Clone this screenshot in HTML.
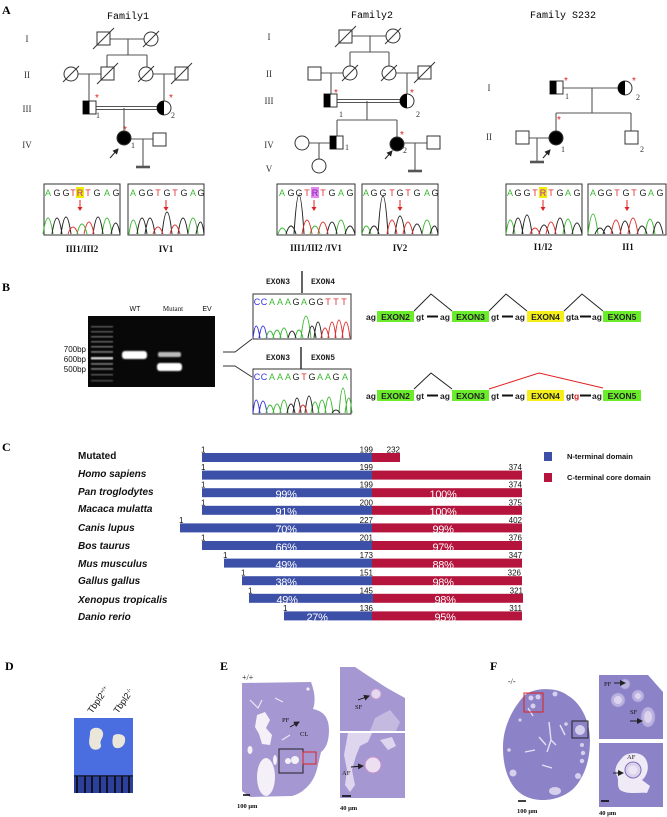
<!DOCTYPE html>
<html><head><meta charset="utf-8"><style>
html,body{margin:0;padding:0;background:#fff;}
svg{display:block;}
.serif{font-family:"Liberation Serif",serif;}
.sans{font-family:"Liberation Sans",sans-serif;}
.mono{font-family:"Liberation Mono",monospace;}
</style></head><body>
<svg width="667" height="817" viewBox="0 0 667 817" xmlns="http://www.w3.org/2000/svg">
<defs>
<filter id="bl" x="-30%" y="-60%" width="160%" height="220%"><feGaussianBlur stdDeviation="0.9"/></filter>
<filter id="bl2" x="-20%" y="-20%" width="140%" height="140%"><feGaussianBlur stdDeviation="0.6"/></filter>
<marker id="ah" markerWidth="6" markerHeight="6" refX="5" refY="3" orient="auto" markerUnits="userSpaceOnUse"><path d="M0,0 L6,3 L0,6 Z" fill="#222"/></marker>
</defs>
<rect width="667" height="817" fill="#fff"/>

<!-- ============ PANEL A ============ -->
<text x="2" y="14" class="serif" font-size="12" font-weight="bold">A</text>
<text x="128" y="19" class="mono" font-size="10" text-anchor="middle">Family1</text>
<text x="372" y="18" class="mono" font-size="10" text-anchor="middle">Family2</text>
<text x="563" y="18" class="mono" font-size="10" text-anchor="middle">Family S232</text>

<g class="serif" font-size="9" fill="#333" text-anchor="middle">
<text x="27" y="42">I</text><text x="27" y="78">II</text><text x="27" y="112">III</text><text x="27" y="148">IV</text>
<text x="269" y="40">I</text><text x="269" y="77">II</text><text x="269" y="104">III</text><text x="269" y="148">IV</text><text x="269" y="172">V</text>
<text x="489" y="91">I</text><text x="489" y="140">II</text>
</g>

<!-- Family1 lines -->
<g stroke="#555" stroke-width="1.1" fill="none">
<line x1="110" y1="39" x2="144" y2="39"/>
<line x1="128" y1="39" x2="128" y2="55"/>
<line x1="107" y1="55" x2="147" y2="55"/>
<line x1="107" y1="55" x2="107" y2="67"/>
<line x1="147" y1="55" x2="147" y2="67"/>
<line x1="78" y1="74" x2="101" y2="74"/>
<line x1="89" y1="74" x2="89" y2="101"/>
<line x1="153" y1="74" x2="175" y2="74"/>
<line x1="164" y1="74" x2="164" y2="101"/>
<line x1="96" y1="106.5" x2="157" y2="106.5"/>
<line x1="96" y1="109.5" x2="157" y2="109.5"/>
<line x1="124" y1="108" x2="124" y2="131"/>
<line x1="131" y1="139" x2="153" y2="139"/>
<line x1="143" y1="139" x2="143" y2="167"/>
<line x1="136" y1="167" x2="150" y2="167" stroke-width="2.6"/>
</g>
<g stroke="#333" stroke-width="1" fill="#fff">
<rect x="97" y="32" width="13" height="13"/>
<circle cx="151" cy="39" r="7"/>
<circle cx="71" cy="74" r="7"/>
<rect x="101" y="67" width="13" height="13"/>
<circle cx="146" cy="74" r="7"/>
<rect x="175" y="67" width="13" height="13"/>
<rect x="83" y="101" width="13" height="13"/>
<circle cx="164" cy="108" r="7"/>
<circle cx="124" cy="138" r="7" fill="#000"/>
<rect x="153" y="133" width="13" height="13"/>
</g>
<rect x="83" y="101" width="6.5" height="13" fill="#000"/>
<path d="M164,101 A7,7 0 0 0 164,115 Z" fill="#000"/>
<g stroke="#333" stroke-width="1">
<line x1="93" y1="49" x2="114" y2="28"/>
<line x1="143" y1="47" x2="159" y2="31"/>
<line x1="63" y1="82" x2="79" y2="66"/>
<line x1="97" y1="84" x2="118" y2="63"/>
<line x1="138" y1="82" x2="154" y2="66"/>
<line x1="171" y1="84" x2="192" y2="63"/>
</g>
<line x1="110" y1="158" x2="118" y2="149" stroke="#222" stroke-width="1" marker-end="url(#ah)"/>
<g fill="#e02020" font-size="10" class="sans"><text x="95" y="101">*</text><text x="169" y="101">*</text><text x="123" y="133">*</text></g>
<g class="serif" font-size="8" fill="#333"><text x="96" y="118">1</text><text x="171" y="118">2</text><text x="131" y="148">1</text></g>

<!-- Family2 lines -->
<g stroke="#555" stroke-width="1.1" fill="none">
<line x1="352" y1="36" x2="386" y2="36"/>
<line x1="370" y1="36" x2="370" y2="52"/>
<line x1="350" y1="52" x2="389" y2="52"/>
<line x1="350" y1="52" x2="350" y2="66"/>
<line x1="389" y1="52" x2="389" y2="66"/>
<line x1="321" y1="73" x2="343" y2="73"/>
<line x1="331" y1="73" x2="331" y2="94"/>
<line x1="396" y1="73" x2="418" y2="73"/>
<line x1="407" y1="73" x2="407" y2="94"/>
<line x1="337" y1="99.5" x2="400" y2="99.5"/>
<line x1="337" y1="102.5" x2="400" y2="102.5"/>
<line x1="367" y1="101" x2="367" y2="120"/>
<line x1="337" y1="120" x2="397" y2="120"/>
<line x1="337" y1="120" x2="337" y2="136"/>
<line x1="397" y1="120" x2="397" y2="137"/>
<line x1="309" y1="143" x2="330" y2="143"/>
<line x1="319" y1="143" x2="319" y2="159"/>
<line x1="404" y1="143" x2="427" y2="143"/>
<line x1="415" y1="143" x2="415" y2="171"/>
<line x1="408" y1="171" x2="422" y2="171" stroke-width="2.6"/>
</g>
<g stroke="#333" stroke-width="1" fill="#fff">
<rect x="339" y="30" width="13" height="13"/>
<circle cx="393" cy="36" r="7"/>
<rect x="308" y="67" width="13" height="13"/>
<circle cx="350" cy="73" r="7"/>
<circle cx="389" cy="73" r="7"/>
<rect x="418" y="66" width="13" height="13"/>
<rect x="324" y="94" width="13" height="13"/>
<circle cx="407" cy="101" r="7"/>
<circle cx="302" cy="143" r="7"/>
<rect x="330" y="136" width="13" height="13"/>
<circle cx="319" cy="166" r="7"/>
<circle cx="397" cy="144" r="7" fill="#000"/>
<rect x="427" y="136" width="13" height="13"/>
</g>
<rect x="324" y="94" width="6.5" height="13" fill="#000"/>
<rect x="330" y="136" width="6.5" height="13" fill="#000"/>
<path d="M407,94 A7,7 0 0 0 407,108 Z" fill="#000"/>
<g stroke="#333" stroke-width="1">
<line x1="335" y1="47" x2="356" y2="26"/>
<line x1="385" y1="44" x2="401" y2="28"/>
<line x1="342" y1="81" x2="358" y2="65"/>
<line x1="381" y1="81" x2="397" y2="65"/>
<line x1="414" y1="83" x2="435" y2="62"/>
</g>
<line x1="385" y1="159" x2="392" y2="151" stroke="#222" stroke-width="1" marker-end="url(#ah)"/>
<g fill="#e02020" font-size="10" class="sans"><text x="334" y="96">*</text><text x="410" y="96">*</text><text x="400" y="138">*</text></g>
<g class="serif" font-size="8" fill="#333"><text x="339" y="117">1</text><text x="416" y="117">2</text><text x="345" y="150">1</text><text x="403" y="153">2</text></g>

<!-- Family S232 lines -->
<g stroke="#555" stroke-width="1.1" fill="none">
<line x1="563" y1="88" x2="618" y2="88"/>
<line x1="592" y1="88" x2="592" y2="113"/>
<line x1="556" y1="113" x2="631" y2="113"/>
<line x1="556" y1="113" x2="556" y2="131"/>
<line x1="631" y1="113" x2="631" y2="131"/>
<line x1="529" y1="138" x2="549" y2="138"/>
<line x1="537" y1="138" x2="537" y2="162"/>
<line x1="530" y1="162" x2="544" y2="162" stroke-width="2.6"/>
</g>
<g stroke="#333" stroke-width="1" fill="#fff">
<rect x="550" y="81" width="13" height="13"/>
<circle cx="625" cy="88" r="7"/>
<rect x="516" y="131" width="13" height="13"/>
<circle cx="556" cy="138" r="7" fill="#000"/>
<rect x="625" y="131" width="13" height="13"/>
</g>
<rect x="550" y="81" width="6.5" height="13" fill="#000"/>
<path d="M625,81 A7,7 0 0 0 625,95 Z" fill="#000"/>
<line x1="543" y1="158" x2="550" y2="150" stroke="#222" stroke-width="1" marker-end="url(#ah)"/>
<g fill="#e02020" font-size="10" class="sans"><text x="564" y="84">*</text><text x="632" y="84">*</text><text x="557" y="123">*</text></g>
<g class="serif" font-size="8" fill="#333"><text x="565" y="99">1</text><text x="636" y="100">2</text><text x="561" y="152">1</text><text x="640" y="152">2</text></g>

<!-- Chromatogram boxes A -->
<g fill="#fff" stroke="#333" stroke-width="1">
<rect x="44" y="184" width="76" height="51"/>
<rect x="128" y="184" width="76" height="51"/>
<rect x="277" y="184" width="78" height="51"/>
<rect x="362" y="184" width="76" height="51"/>
<rect x="506" y="184" width="76" height="51"/>
<rect x="588" y="184" width="78" height="51"/>
</g>
<!-- highlights -->
<rect x="76" y="187" width="8" height="11" fill="#f0ee00"/>
<rect x="311" y="187" width="8" height="11" fill="#e28af0"/>
<rect x="539" y="187" width="8" height="11" fill="#f0ee00"/>

<g class="sans" font-size="9" text-anchor="middle">
<text x="48" y="196" fill="#3cb832">A</text><text x="57" y="196" fill="#222">G</text><text x="66" y="196" fill="#222">G</text><text x="73" y="196" fill="#e03030">T</text><text x="80" y="196" fill="#b020c0">R</text><text x="88" y="196" fill="#e03030">T</text><text x="97" y="196" fill="#222">G</text><text x="107" y="196" fill="#3cb832">A</text><text x="116" y="196" fill="#222">G</text>
<text x="133" y="196" fill="#3cb832">A</text><text x="142" y="196" fill="#222">G</text><text x="150" y="196" fill="#222">G</text><text x="158" y="196" fill="#e03030">T</text><text x="167" y="196" fill="#222">G</text><text x="175" y="196" fill="#e03030">T</text><text x="184" y="196" fill="#222">G</text><text x="193" y="196" fill="#3cb832">A</text><text x="201" y="196" fill="#222">G</text>
<text x="282" y="196" fill="#3cb832">A</text><text x="291" y="196" fill="#222">G</text><text x="299" y="196" fill="#222">G</text><text x="307" y="196" fill="#e03030">T</text><text x="315" y="196" fill="#8020b0">R</text><text x="323" y="196" fill="#e03030">T</text><text x="332" y="196" fill="#222">G</text><text x="341" y="196" fill="#3cb832">A</text><text x="350" y="196" fill="#222">G</text>
<text x="366" y="196" fill="#3cb832">A</text><text x="374" y="196" fill="#222">G</text><text x="383" y="196" fill="#222">G</text><text x="392" y="196" fill="#e03030">T</text><text x="400" y="196" fill="#222">G</text><text x="408" y="196" fill="#e03030">T</text><text x="417" y="196" fill="#222">G</text><text x="427" y="196" fill="#3cb832">A</text><text x="435" y="196" fill="#222">G</text>
<text x="510" y="196" fill="#3cb832">A</text><text x="518" y="196" fill="#222">G</text><text x="527" y="196" fill="#222">G</text><text x="535" y="196" fill="#e03030">T</text><text x="543" y="196" fill="#b020c0">R</text><text x="551" y="196" fill="#e03030">T</text><text x="560" y="196" fill="#222">G</text><text x="568" y="196" fill="#3cb832">A</text><text x="577" y="196" fill="#222">G</text>
<text x="593" y="196" fill="#3cb832">A</text><text x="601" y="196" fill="#222">G</text><text x="609" y="196" fill="#222">G</text><text x="617" y="196" fill="#e03030">T</text><text x="626" y="196" fill="#222">G</text><text x="634" y="196" fill="#e03030">T</text><text x="643" y="196" fill="#222">G</text><text x="651" y="196" fill="#3cb832">A</text><text x="660" y="196" fill="#222">G</text>
</g>
<!-- red arrows -->
<g stroke="#e02020" stroke-width="1" fill="#e02020">
<line x1="80" y1="200" x2="80" y2="208"/><path d="M77.5,207 L82.5,207 L80,211 Z" stroke="none"/>
<line x1="166" y1="200" x2="166" y2="208"/><path d="M163.5,207 L168.5,207 L166,211 Z" stroke="none"/>
<line x1="314" y1="200" x2="314" y2="208"/><path d="M311.5,207 L316.5,207 L314,211 Z" stroke="none"/>
<line x1="400" y1="200" x2="400" y2="208"/><path d="M397.5,207 L402.5,207 L400,211 Z" stroke="none"/>
<line x1="543" y1="200" x2="543" y2="208"/><path d="M540.5,207 L545.5,207 L543,211 Z" stroke="none"/>
<line x1="627" y1="200" x2="627" y2="208"/><path d="M624.5,207 L629.5,207 L627,211 Z" stroke="none"/>
</g>
<!-- peaks A -->
<g fill="none" stroke-width="1">
<path stroke="#3cb832" d="M43,234 Q48,202 53,234 M102,234 Q107,202 112,234"/>
<path stroke="#222" d="M52,234 Q57,202 62,234 M61,234 Q66,200 71,234 M93,234 Q98,200 103,234 M111,234 Q116,212 120,234"/>
<path stroke="#e03030" d="M68,234 Q73,220 78,234 M84,234 Q89,210 94,234"/>
<path stroke="#3cb832" d="M77,234 Q82,214 87,234"/>
<path stroke="#3cb832" d="M129,234 Q133,206 138,234 M188,234 Q193,202 198,234"/>
<path stroke="#222" d="M137,234 Q142,202 147,234 M145,234 Q150,202 155,234 M162,234 Q167,190 172,234 M178,234 Q183,202 188,234 M196,234 Q201,210 204,234"/>
<path stroke="#e03030" d="M153,234 Q158,220 163,234 M170,234 Q175,216 180,234"/>
<path stroke="#3cb832" d="M278,234 Q282,222 287,234 M310,234 Q315,218 320,234 M336,234 Q341,206 346,234"/>
<path stroke="#222" d="M286,234 Q291,218 296,234 M294,234 Q299,156 304,234 M327,234 Q332,210 337,234 M345,234 Q350,218 355,234"/>
<path stroke="#e03030" d="M302,234 Q307,206 312,234 M318,234 Q323,210 328,234"/>
<path stroke="#3cb832" d="M362,234 Q366,218 371,234 M422,234 Q427,206 432,234"/>
<path stroke="#222" d="M369,234 Q374,218 379,234 M378,234 Q383,158 388,234 M395,234 Q400,198 405,234 M412,234 Q417,214 422,234 M430,234 Q435,218 438,234"/>
<path stroke="#e03030" d="M387,234 Q392,206 397,234 M403,234 Q408,210 413,234"/>
<path stroke="#3cb832" d="M506,234 Q510,206 515,234 M563,234 Q568,204 573,234"/>
<path stroke="#222" d="M513,234 Q518,202 523,234 M522,234 Q527,196 532,234 M539,234 Q544,216 549,234 M555,234 Q560,202 565,234 M572,234 Q577,212 582,234"/>
<path stroke="#e03030" d="M530,234 Q535,222 540,234 M546,234 Q551,210 556,234"/>
<path stroke="#3cb832" d="M588,234 Q593,194 598,234 M645,234 Q650,204 655,234"/>
<path stroke="#222" d="M595,234 Q600,222 605,234 M603,234 Q608,218 613,234 M620,234 Q625,208 630,234 M637,234 Q642,218 647,234 M653,234 Q658,210 663,234"/>
<path stroke="#e03030" d="M611,234 Q616,206 621,234 M628,234 Q633,202 638,234"/>
</g>
<g class="serif" font-size="9" font-weight="bold" text-anchor="middle" fill="#111">
<text x="82" y="252">III1/III2</text><text x="166" y="252">IV1</text>
<text x="316" y="251">III1/III2 /IV1</text><text x="400" y="251">IV2</text>
<text x="543" y="250">I1/I2</text><text x="628" y="250">II1</text>
</g>

<!-- ============ PANEL B ============ -->
<text x="2" y="291" class="serif" font-size="12" font-weight="bold">B</text>
<g class="sans" font-size="7" text-anchor="middle" fill="#111">
<text x="135" y="311">WT</text><text x="173" y="311" class="serif">Mutant</text><text x="207" y="311">EV</text>
</g>
<g class="sans" font-size="8" text-anchor="end" fill="#111">
<text x="86" y="352">700bp</text><text x="86" y="362">600bp</text><text x="86" y="372">500bp</text>
</g>
<rect x="88" y="316" width="127" height="71" fill="#080808"/>
<g fill="#8a8a8a" filter="url(#bl2)">
<rect x="91" y="326" width="22" height="1.5" opacity="0.6"/>
<rect x="91" y="331" width="22" height="1.5" opacity="0.6"/>
<rect x="91" y="336" width="22" height="1.5" opacity="0.7"/>
<rect x="91" y="341" width="22" height="1.5" opacity="0.7"/>
<rect x="91" y="346" width="22" height="1.5" opacity="0.8"/>
<rect x="91" y="351" width="22" height="1.8" opacity="0.8"/>
<rect x="91" y="357" width="22" height="2.5" fill="#ccc"/>
<rect x="91" y="363" width="22" height="1.8" opacity="0.8"/>
<rect x="91" y="368" width="22" height="1.8" opacity="0.8"/>
<rect x="91" y="374" width="22" height="1.5" opacity="0.6"/>
<rect x="91" y="380" width="22" height="1.5" opacity="0.5"/>
</g>
<g filter="url(#bl)">
<rect x="122" y="351" width="25" height="8" rx="3" fill="#fff"/>
<rect x="158" y="352" width="23" height="5" rx="2" fill="#bbb"/>
<rect x="157" y="363" width="25" height="8" rx="3" fill="#fff"/>
</g>
<polyline points="223,352 235,352 252,339" fill="none" stroke="#333" stroke-width="1"/>
<polyline points="223,366 235,366 252,377" fill="none" stroke="#333" stroke-width="1"/>
<g class="mono" font-size="8" font-weight="bold" fill="#222">
<text x="266" y="284">EXON3</text><text x="311" y="284">EXON4</text>
<text x="266" y="360">EXON3</text><text x="311" y="360">EXON5</text>
</g>
<line x1="302" y1="271" x2="302" y2="293" stroke="#111" stroke-width="1.3"/>
<line x1="301" y1="347" x2="301" y2="369" stroke="#111" stroke-width="1.3"/>
<rect x="253" y="294" width="98" height="45" fill="#fff" stroke="#333" stroke-width="1"/>
<rect x="253" y="369" width="98" height="45" fill="#fff" stroke="#333" stroke-width="1"/>
<g class="sans" font-size="9" text-anchor="middle">
<text x="257" y="305" fill="#3333dd">C</text><text x="264" y="305" fill="#3333dd">C</text><text x="272" y="305" fill="#3cb832">A</text><text x="280" y="305" fill="#3cb832">A</text><text x="288" y="305" fill="#3cb832">A</text><text x="296" y="305" fill="#222">G</text><text x="304" y="305" fill="#3cb832">A</text><text x="312" y="305" fill="#222">G</text><text x="320" y="305" fill="#222">G</text><text x="328" y="305" fill="#e03030">T</text><text x="336" y="305" fill="#e03030">T</text><text x="344" y="305" fill="#e03030">T</text>
<text x="257" y="380" fill="#3333dd">C</text><text x="264" y="380" fill="#3333dd">C</text><text x="272" y="380" fill="#3cb832">A</text><text x="280" y="380" fill="#3cb832">A</text><text x="288" y="380" fill="#3cb832">A</text><text x="296" y="380" fill="#222">G</text><text x="304" y="380" fill="#e03030">T</text><text x="312" y="380" fill="#222">G</text><text x="320" y="380" fill="#3cb832">A</text><text x="328" y="380" fill="#3cb832">A</text><text x="336" y="380" fill="#222">G</text><text x="345" y="380" fill="#3cb832">A</text>
</g>
<g fill="none" stroke-width="1">
<path stroke="#3333dd" d="M253,338 Q256,314 260,338 M259,338 Q263,314 267,338"/>
<path stroke="#3cb832" d="M266,338 Q270,324 274,338 M273,338 Q277,322 281,338 M280,338 Q284,318 288,338 M295,338 Q299,322 303,338 M301,338 Q306,294 311,338"/>
<path stroke="#222" d="M288,338 Q292,324 296,338 M308,338 Q312,314 316,338 M314,338 Q318,306 322,338"/>
<path stroke="#e03030" d="M321,338 Q325,318 329,338 M328,338 Q332,306 336,338 M335,338 Q339,302 343,338 M342,338 Q346,306 350,338"/>
<path stroke="#3333dd" d="M253,413 Q256,387 260,413 M259,413 Q263,389 267,413"/>
<path stroke="#3cb832" d="M266,413 Q270,397 274,413 M273,413 Q277,395 281,413 M280,413 Q284,387 288,413 M311,413 Q315,391 319,413 M318,413 Q322,387 326,413 M325,413 Q329,381 333,413 M339,413 Q343,363 347,413 M345,413 Q349,383 352,413"/>
<path stroke="#222" d="M287,413 Q291,395 295,413 M293,413 Q297,383 301,413 M305,413 Q309,379 313,413 M332,413 Q336,407 340,413"/>
<path stroke="#e03030" d="M299,413 Q303,397 307,413"/>
</g>
<!-- exon diagrams -->
<g stroke="#222" stroke-width="1" fill="none">
<polyline points="414,311 431,294 452,311"/>
<polyline points="489,311 506,294 527,311"/>
<polyline points="564,311 582,294 603,311"/>
<polyline points="414,389 431,373 452,389"/>
</g>
<polyline points="489,389 539,373 603,388" fill="none" stroke="#e02020" stroke-width="1"/>
<g fill="#6aec2a"><rect x="377" y="311" width="37" height="11"/><rect x="452" y="311" width="37" height="11"/><rect x="603" y="311" width="38" height="11"/>
<rect x="377" y="390" width="37" height="11"/><rect x="452" y="390" width="37" height="11"/><rect x="603" y="390" width="38" height="11"/></g>
<g fill="#f5ee18"><rect x="527" y="311" width="37" height="11"/><rect x="527" y="390" width="37" height="11"/></g>
<g stroke="#111" stroke-width="2"><line x1="427" y1="316.5" x2="438" y2="316.5"/><line x1="502" y1="316.5" x2="513" y2="316.5"/><line x1="580" y1="316.5" x2="591" y2="316.5"/>
<line x1="427" y1="395.5" x2="438" y2="395.5"/><line x1="502" y1="395.5" x2="513" y2="395.5"/><line x1="580" y1="395.5" x2="591" y2="395.5"/></g>
<g class="sans" font-size="8.5" font-weight="bold" fill="#222">
<text x="366" y="320">ag</text><text x="395.5" y="320" text-anchor="middle">EXON2</text><text x="416" y="320">gt</text><text x="440" y="320">ag</text><text x="470.5" y="320" text-anchor="middle">EXON3</text><text x="491" y="320">gt</text><text x="515" y="320">ag</text><text x="545.5" y="320" text-anchor="middle">EXON4</text><text x="566" y="320">gta</text><text x="592" y="320">ag</text><text x="622" y="320" text-anchor="middle">EXON5</text>
<text x="366" y="399">ag</text><text x="395.5" y="399" text-anchor="middle">EXON2</text><text x="416" y="399">gt</text><text x="440" y="399">ag</text><text x="470.5" y="399" text-anchor="middle">EXON3</text><text x="491" y="399">gt</text><text x="515" y="399">ag</text><text x="545.5" y="399" text-anchor="middle">EXON4</text><text x="566" y="399">gt<tspan fill="#e02020">g</tspan></text><text x="592" y="399">ag</text><text x="622" y="399" text-anchor="middle">EXON5</text>
</g>

<!-- ============ PANEL C ============ -->
<text x="2" y="451" class="serif" font-size="12" font-weight="bold">C</text>
<g class="sans" font-size="10" font-weight="bold" fill="#111">
<text x="78" y="459">Mutated</text>
<g font-style="italic">
<text x="78" y="477">Homo sapiens</text>
<text x="78" y="495">Pan troglodytes</text>
<text x="78" y="512">Macaca mulatta</text>
<text x="78" y="531">Canis lupus</text>
<text x="78" y="549">Bos taurus</text>
<text x="78" y="567">Mus musculus</text>
<text x="78" y="584">Gallus gallus</text>
<text x="78" y="603">Xenopus tropicalis</text>
<text x="78" y="620">Danio rerio</text>
</g></g>
<g fill="#3c50a8">
<rect x="202" y="453" width="170" height="9"/>
<rect x="202" y="470.6" width="170" height="9"/>
<rect x="202" y="488.2" width="170" height="9"/>
<rect x="202" y="505.8" width="170" height="9"/>
<rect x="180" y="523.4" width="192" height="9"/>
<rect x="202" y="541" width="170" height="9"/>
<rect x="224" y="558.6" width="148" height="9"/>
<rect x="242" y="576.2" width="130" height="9"/>
<rect x="249" y="593.8" width="124" height="9"/>
<rect x="284" y="611.4" width="88" height="9"/>
</g>
<g fill="#b5143c">
<rect x="372" y="453" width="28" height="9"/>
<rect x="372" y="470.6" width="150" height="9"/>
<rect x="372" y="488.2" width="150" height="9"/>
<rect x="372" y="505.8" width="150" height="9"/>
<rect x="372" y="523.4" width="150" height="9"/>
<rect x="372" y="541" width="150" height="9"/>
<rect x="372" y="558.6" width="150" height="9"/>
<rect x="372" y="576.2" width="150" height="9"/>
<rect x="373" y="593.8" width="150" height="9"/>
<rect x="372" y="611.4" width="150" height="9"/>
</g>
<g class="sans" font-size="8" fill="#111">
<text x="201" y="452.5">1</text><text x="201" y="470">1</text><text x="201" y="487.7">1</text><text x="201" y="505.3">1</text><text x="179" y="522.9">1</text><text x="201" y="540.5">1</text><text x="223" y="558">1</text><text x="241" y="575.7">1</text><text x="248" y="593.3">1</text><text x="283" y="610.9">1</text>
<g text-anchor="end">
<text x="373" y="452.5">199</text><text x="400" y="452.5">232</text>
<text x="373" y="470">199</text><text x="522" y="470">374</text>
<text x="373" y="487.7">199</text><text x="522" y="487.7">374</text>
<text x="373" y="505.3">200</text><text x="522" y="505.3">375</text>
<text x="373" y="522.9">227</text><text x="522" y="522.9">402</text>
<text x="373" y="540.5">201</text><text x="522" y="540.5">376</text>
<text x="373" y="558">173</text><text x="522" y="558">347</text>
<text x="373" y="575.7">151</text><text x="521" y="575.7">326</text>
<text x="373" y="593.3">145</text><text x="523" y="593.3">321</text>
<text x="373" y="610.9">136</text><text x="522" y="610.9">311</text>
</g></g>
<g class="sans" font-size="11" fill="#fff" text-anchor="middle" letter-spacing="-0.3">
<text x="286" y="498">99%</text><text x="443" y="498">100%</text>
<text x="286" y="515.6">91%</text><text x="443" y="515.6">100%</text>
<text x="286" y="533.2">70%</text><text x="443" y="533.2">99%</text>
<text x="286" y="550.8">66%</text><text x="443" y="550.8">97%</text>
<text x="286" y="568.4">49%</text><text x="443" y="568.4">88%</text>
<text x="286" y="586">38%</text><text x="443" y="586">98%</text>
<text x="287" y="603.6">49%</text><text x="445" y="603.6">98%</text>
<text x="317" y="621.2">27%</text><text x="445" y="621.2">95%</text>
</g>
<rect x="544" y="452" width="8" height="9" fill="#3c50a8"/>
<rect x="544" y="473" width="8" height="9" fill="#b5143c"/>
<g class="sans" font-size="7.5" font-weight="bold" fill="#111">
<text x="567" y="459">N-terminal domain</text>
<text x="567" y="480">C-terminal core domain</text>
</g>

<!-- ============ PANEL D ============ -->
<text x="5" y="670" class="serif" font-size="12" font-weight="bold">D</text>
<g class="sans" font-size="9" fill="#111">
<text transform="translate(92,714) rotate(-55)">Tbpl2<tspan font-size="5.5" dy="-3">+/+</tspan></text>
<text transform="translate(118,714) rotate(-55)">Tbpl2<tspan font-size="5.5" dy="-3">-/-</tspan></text>
</g>
<rect x="74" y="718" width="59" height="75" fill="#4a6ee0"/>
<rect x="74" y="775" width="59" height="18" fill="#2c3f9a"/>
<g stroke="#080808" stroke-width="1.6">
<line x1="77" y1="776" x2="77" y2="793"/><line x1="85" y1="776" x2="85" y2="793"/><line x1="92" y1="776" x2="92" y2="793"/><line x1="100" y1="776" x2="100" y2="793"/><line x1="107" y1="776" x2="107" y2="793"/><line x1="115" y1="776" x2="115" y2="793"/><line x1="122" y1="776" x2="122" y2="793"/><line x1="129" y1="776" x2="129" y2="793"/>
</g>
<line x1="74" y1="776" x2="133" y2="776" stroke="#151515" stroke-width="1"/>
<path d="M90,733 C90,726 102,726 103,733 C104,738 99,740 101,745 C102,750 92,752 90,746 C88,742 90,738 90,733 Z" fill="#ebe6da"/>
<path d="M113,737 C113,733 124,733 125,738 C126,745 121,749 116,748 C112,747 112,741 113,737 Z" fill="#ebe6da"/>

<!-- ============ PANEL E ============ -->
<text x="220" y="670" class="serif" font-size="12" font-weight="bold">E</text>
<text x="242" y="680" class="serif" font-size="8" fill="#111">+/+</text>
<path d="M242,683 L311,682 Q317,698 313,709 Q329,712 329,730 Q329,746 321,752 L318,765 Q315,780 306,788 Q300,794 292,796 L250,797 L242,791 Z" fill="#a597d1"/>
<g fill="#f4f0f8">
<path d="M257,715 L265,712 L270,720 L266,728 L272,735 L270,745 L262,744 L259,734 L255,727 Z"/>
<ellipse cx="266" cy="777" rx="9" ry="19"/>
<ellipse cx="250" cy="750" rx="2.5" ry="4"/>
<ellipse cx="275" cy="760" rx="2" ry="5"/>
<circle cx="288" cy="761" r="3"/><circle cx="295" cy="760" r="4"/>
<circle cx="308" cy="689" r="1.6"/>
</g>
<g fill="none" stroke="#ece6f4" stroke-width="1.2">
<path d="M250,700 L258,708 L262,700 M275,698 L283,702 M282,740 L290,735"/>
</g>
<rect x="279" y="749" width="24" height="24" fill="none" stroke="#222" stroke-width="1"/>
<rect x="303" y="752" width="13" height="12" fill="none" stroke="#e02020" stroke-width="1"/>
<text x="282" y="722" class="serif" font-size="6.5" fill="#111">PF</text>
<line x1="290" y1="727" x2="299" y2="722" stroke="#111" stroke-width="0.9" marker-end="url(#ah)"/>
<text x="300" y="736" class="serif" font-size="6.5" fill="#111">CL</text>
<line x1="243" y1="795" x2="250" y2="795" stroke="#000" stroke-width="1.5"/>
<text x="237" y="808" class="serif" font-size="6.5" font-weight="bold" fill="#111">100 μm</text>
<!-- E subpanels -->
<path d="M340,667 L355,667 L367,675 L387,688 L405,698 L405,731 L340,731 Z" fill="#a597d1"/>
<path d="M375,718 L390,710 L400,722 L396,731 L370,731 Z" fill="#c4bae0"/>
<circle cx="376" cy="694" r="5" fill="#e6d8ef" stroke="#c8a0d8" stroke-width="1"/>
<text x="355" y="709" class="serif" font-size="6.5" fill="#111">SF</text>
<line x1="358" y1="700" x2="369" y2="696" stroke="#111" stroke-width="0.9" marker-end="url(#ah)"/>
<rect x="340" y="733" width="65" height="65" fill="#a597d1"/>
<path d="M348,733 L372,733 L368,742 L360,746 L356,756 L352,770 L355,785 L350,792 L345,785 L347,770 L344,755 Z" fill="#ddd6ee"/>
<path d="M380,740 L392,737 L396,746 L388,750 Z" fill="#ddd6ee"/>
<circle cx="373" cy="765" r="8" fill="#ecdff0" stroke="#c890d0" stroke-width="1"/>
<text x="342" y="775" class="serif" font-size="6.5" fill="#111">AF</text>
<line x1="351" y1="767" x2="363" y2="766" stroke="#111" stroke-width="0.9" marker-end="url(#ah)"/>
<line x1="342" y1="796" x2="351" y2="796" stroke="#000" stroke-width="1.5"/>
<text x="340" y="810" class="serif" font-size="6.5" font-weight="bold" fill="#111">40 μm</text>

<!-- ============ PANEL F ============ -->
<text x="490" y="670" class="serif" font-size="12" font-weight="bold">F</text>
<text x="508" y="684" class="serif" font-size="8" fill="#111">-/-</text>
<path d="M523,697 C530,688 555,686 567,695 C580,702 590,720 590,740 C590,760 585,772 580,780 C572,795 555,800 543,800 C530,800 520,795 514,787 C505,775 503,760 503,747 C503,730 510,712 523,697 Z" fill="#8c82c8"/>
<g fill="#d6d0ec">
<circle cx="531" cy="698" r="2.5"/><circle cx="538" cy="697" r="2.5"/><circle cx="533" cy="706" r="2.5"/>
<circle cx="555" cy="694" r="2.5"/><circle cx="580" cy="730" r="5"/><circle cx="566" cy="724" r="1.8"/>
<circle cx="582" cy="745" r="2"/><circle cx="583" cy="753" r="2.2"/><circle cx="582" cy="761" r="2.2"/><circle cx="578" cy="776" r="3"/>
<circle cx="513" cy="773" r="3.5"/><ellipse cx="555" cy="791" rx="6" ry="4"/><circle cx="509" cy="750" r="1.8"/><circle cx="520" cy="720" r="1.6"/>
</g>
<g fill="none" stroke="#e4e0f4" stroke-width="1.4">
<path d="M549,722 L551,740 L547,752 M551,740 L556,745 M539,737 L546,745 M525,752 L535,750 M560,725 L565,735 M542,765 L552,768 M528,708 L533,716"/>
</g>
<rect x="524" y="693" width="19" height="19" fill="none" stroke="#e02020" stroke-width="1"/>
<rect x="572" y="721" width="16" height="17" fill="none" stroke="#222" stroke-width="1"/>
<line x1="518" y1="801" x2="526" y2="801" stroke="#000" stroke-width="1.5"/>
<text x="517" y="813" class="serif" font-size="6.5" font-weight="bold" fill="#111">100 μm</text>
<!-- F subpanels -->
<path d="M599,675 L648,675 L663,692 L663,739 L599,739 Z" fill="#8c82c8"/>
<g fill="#bcb2e0" stroke="#9f95d2" stroke-width="0.8">
<circle cx="625" cy="684" r="5"/><circle cx="638" cy="696" r="6"/><circle cx="618" cy="700" r="7"/>
<ellipse cx="648" cy="717" rx="7" ry="10"/>
</g>
<g fill="#dcd4ef"><circle cx="618" cy="700" r="4"/><ellipse cx="648" cy="717" rx="4" ry="6"/><circle cx="638" cy="696" r="3"/></g>
<text x="604" y="686" class="serif" font-size="6.5" fill="#111">PF</text>
<line x1="614" y1="683" x2="625" y2="683" stroke="#111" stroke-width="0.9" marker-end="url(#ah)"/>
<text x="630" y="714" class="serif" font-size="6.5" fill="#111">SF</text>
<line x1="630" y1="721" x2="642" y2="721" stroke="#111" stroke-width="0.9" marker-end="url(#ah)"/>
<rect x="599" y="743" width="64" height="64" fill="#8c82c8"/>
<path d="M622,758 C626,752 640,751 645,758 C650,765 648,775 642,780 L650,786 L647,793 C638,792 628,795 620,790 C616,785 620,780 616,774 C614,768 618,762 622,758 Z" fill="#efeaf6"/>
<circle cx="633" cy="770" r="8" fill="#dcd2ec" stroke="#7a6fb8" stroke-width="1"/>
<circle cx="633" cy="770" r="4.5" fill="#ece6f4"/>
<text x="627" y="759" class="serif" font-size="6.5" fill="#111">AF</text>
<line x1="613" y1="773" x2="623" y2="773" stroke="#111" stroke-width="0.9" marker-end="url(#ah)"/>
<line x1="601" y1="801" x2="609" y2="801" stroke="#000" stroke-width="1.5"/>
<text x="599" y="815" class="serif" font-size="6.5" font-weight="bold" fill="#111">40 μm</text>
</svg>
</body></html>
